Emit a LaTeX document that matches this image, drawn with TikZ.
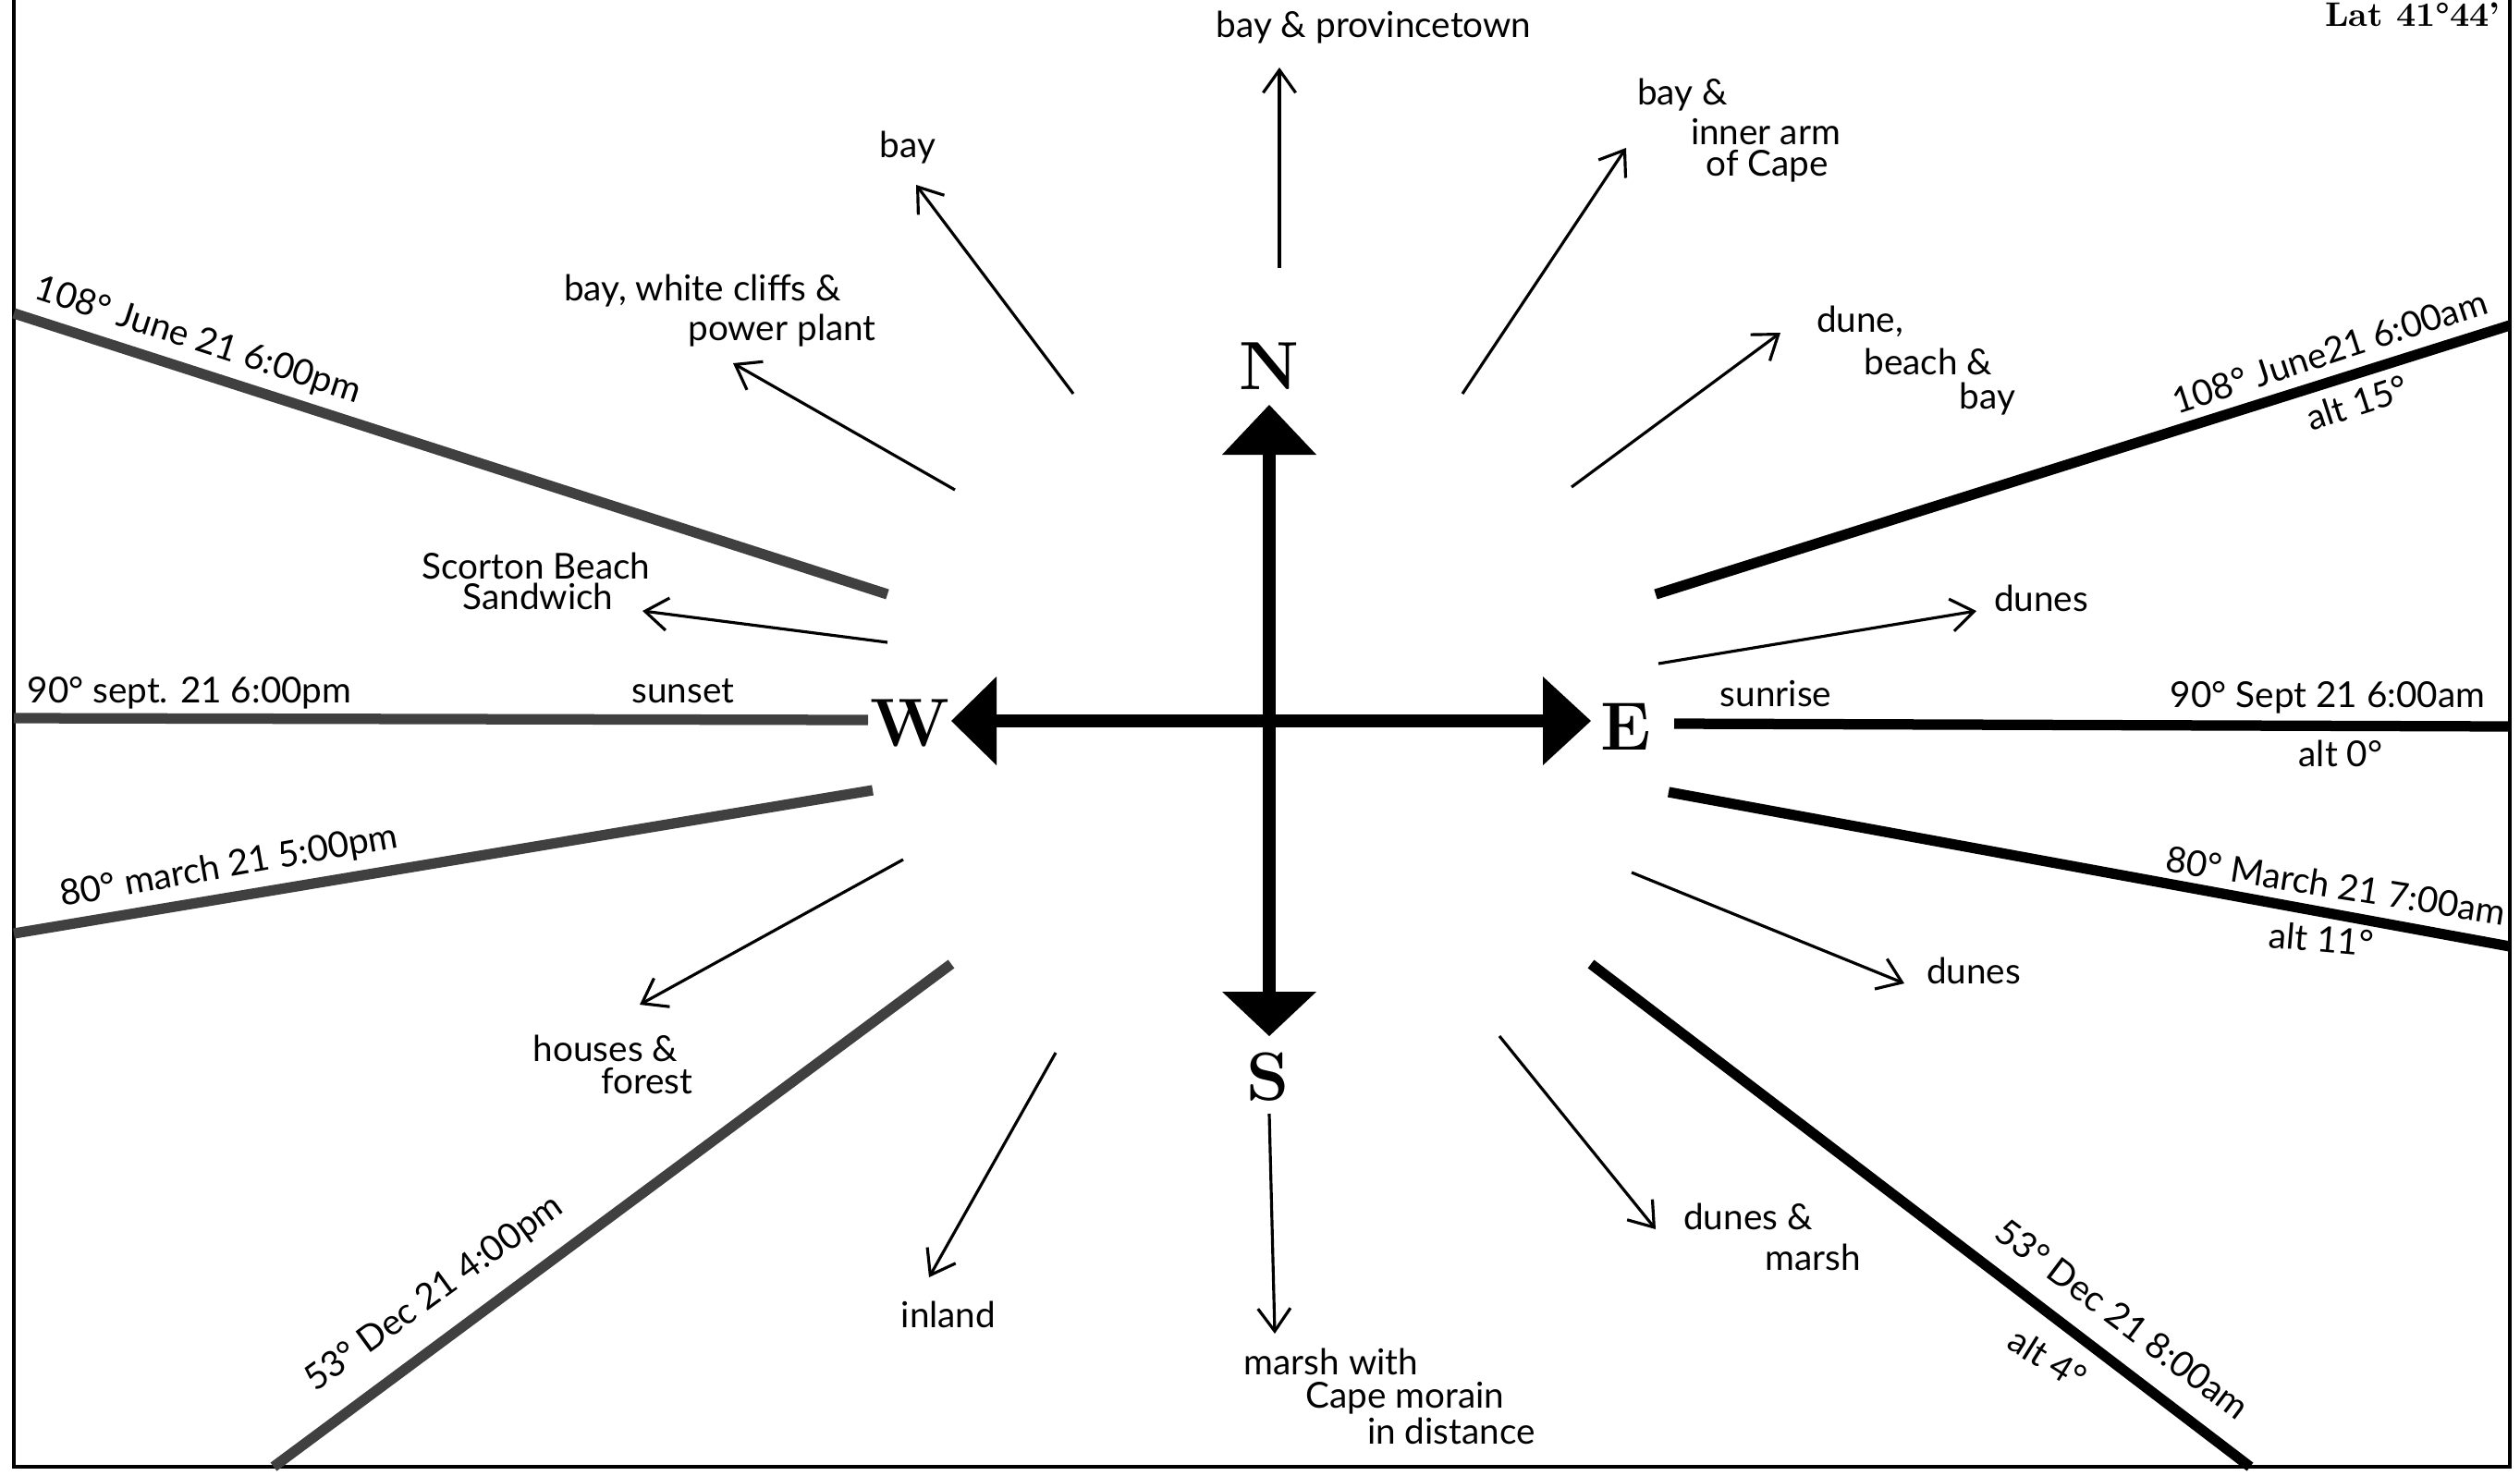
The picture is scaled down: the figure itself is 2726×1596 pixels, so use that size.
\documentclass[tikz,border=0pt]{standalone}
\usepackage{fontspec}
\newfontfamily\hand{Lato}
\usetikzlibrary{arrows.meta}
\begin{document}
\begin{tikzpicture}[x=0.01cm,y=-0.01cm,
 hand/.style={font=\hand\fontsize{11}{13}\selectfont, inner sep=0pt, align=center},
 rayR/.style={line width=3.2pt, black},
 rayL/.style={line width=3.2pt, black!75},
 pointer/.style={line width=0.9pt, -{Straight Barb[length=7pt,width=10pt]}},
 compass/.style={font=\bfseries\fontsize{21}{21}\selectfont, inner sep=0pt},
 head/.style={fill=black, draw=none},
 shaft/.style={line width=4pt, black},
 frame/.style={line width=1.2pt, black},
]
\useasboundingbox (0,0) rectangle (2726,1596);
% frame
\draw[frame] (15,0) -- (15,1587) -- (2715,1587) -- (2715,0);
\node[font=\bfseries\fontsize{10.5}{12}\selectfont, anchor=base, inner sep=0pt] (lat) at (2610,28) {Lat 41°44'};

% sun rays
\coordinate (r1a) at (15,339);   \coordinate (r1b) at (960,643);
\coordinate (r2a) at (15,777);   \coordinate (r2b) at (939,779);
\coordinate (r3a) at (15,1010);  \coordinate (r3b) at (944,855);
\coordinate (r4a) at (296,1587); \coordinate (r4b) at (1029,1043);
\coordinate (r5a) at (1791,643); \coordinate (r5b) at (2715,352);
\coordinate (r6a) at (1811,783); \coordinate (r6b) at (2715,786);
\coordinate (r7a) at (1805,857); \coordinate (r7b) at (2715,1024);
\coordinate (r8a) at (1721,1043);\coordinate (r8b) at (2434,1587);
\draw[rayL] (r1a) -- (r1b);
\draw[rayL] (r2a) -- (r2b);
\draw[rayL] (r3a) -- (r3b);
\draw[rayL] (r4a) -- (r4b);
\draw[rayR] (r5a) -- (r5b);
\draw[rayR] (r6a) -- (r6b);
\draw[rayR] (r7a) -- (r7b);
\draw[rayR] (r8a) -- (r8b);

% ray labels
\node[hand, rotate=-18] (l1) at (214,369) {108° June 21 6:00pm};
\node[hand] (l2) at (205,750) {90° sept. 21 6:00pm};
\node[hand, rotate=10] (l3) at (248,938) {80° march 21 5:00pm};
\node[hand, rotate=36] (l4) at (470,1400) {53° Dec 21 4:00pm};
\node[hand, rotate=18] (l5) at (2520,380) {108° June21 6:00am};
\node[hand, rotate=18] (l5b) at (2550,436) {alt 15°};
\node[hand] (l6) at (2518,755) {90° Sept 21 6:00am};
\node[hand] (l6b) at (2532,815) {alt 0°};
\node[hand, rotate=-9] (l7) at (2527,958) {80° March 21 7:00am};
\node[hand, rotate=-5] (l7b) at (2511,1016) {alt 11°};
\node[hand, rotate=-37] (l8) at (2296,1427) {53° Dec 21 8:00am};
\node[hand, rotate=-32] (l8b) at (2215,1470) {alt 4°};

% compass
\coordinate (Ntip) at (1373,438); \coordinate (Nbase) at (1373,492);
\coordinate (Stip) at (1373,1121); \coordinate (Sbase) at (1373,1073);
\coordinate (Wtip) at (1029,780); \coordinate (Wbase) at (1078,780);
\coordinate (Etip) at (1721,780); \coordinate (Ebase) at (1669,780);
\draw[shaft] (Nbase) -- (Sbase);
\draw[shaft] (Wbase) -- (Ebase);
\fill[head] (Ntip) -- (1322,492) -- (1424,492) -- cycle;
\fill[head] (Stip) -- (1322,1073) -- (1424,1073) -- cycle;
\fill[head] (Wtip) -- (1078,732) -- (1078,828) -- cycle;
\fill[head] (Etip) -- (1669,732) -- (1669,828) -- cycle;
\node[compass] (N) at (1373,396) {N};
\node[compass] (W) at (984,782) {W};
\node[compass] (E) at (1759,786) {E};
\node[compass] (S) at (1372,1165) {S};

% pointers and view labels
\coordinate (pNa) at (1384,290);   \coordinate (pNb) at (1384,73);
\node[hand] (vN) at (1486,30) {bay \& provincetown};
\draw[pointer] (pNa) -- (pNb);

\coordinate (pNNWa) at (1161,426); \coordinate (pNNWb) at (991,200);
\node[hand] (vNNW) at (982,160) {bay};
\draw[pointer] (pNNWa) -- (pNNWb);

\coordinate (pNWa) at (1033,530);  \coordinate (pNWb) at (793,393);
\node[hand] (vNW1) at (760,315) {bay, white cliffs \&};
\node[hand] (vNW2) at (846,358) {power plant};
\draw[pointer] (pNWa) -- (pNWb);

\coordinate (pWa) at (960,695);    \coordinate (pWb) at (695,661);
\node[hand] (vW1) at (580,612) {Scorton Beach};
\node[hand] (vW2) at (582,645) {Sandwich};
\draw[pointer] (pWa) -- (pWb);

\node[hand] (sunset) at (739,748) {sunset};

\coordinate (pSWa) at (977,930);   \coordinate (pSWb) at (692,1087);
\node[hand] (vSW1) at (655,1134) {houses \&};
\node[hand] (vSW2) at (700,1170) {forest};
\draw[pointer] (pSWa) -- (pSWb);

\coordinate (pSSWa) at (1142,1139); \coordinate (pSSWb) at (1005,1382);
\node[hand] (vSSW) at (1026,1422) {inland};
\draw[pointer] (pSSWa) -- (pSSWb);

\coordinate (pSa) at (1373,1205);  \coordinate (pSb) at (1379,1443);
\node[hand] (vS1) at (1440,1473) {marsh with};
\node[hand] (vS2) at (1520,1513) {Cape morain};
\node[hand] (vS3) at (1570,1548) {in distance};
\draw[pointer] (pSa) -- (pSb);

\coordinate (pSSEa) at (1622,1121); \coordinate (pSSEb) at (1791,1330);
\node[hand] (vSSE1) at (1891,1316) {dunes \&};
\node[hand] (vSSE2) at (1961,1360) {marsh};
\draw[pointer] (pSSEa) -- (pSSEb);

\coordinate (pESEa) at (1765,944); \coordinate (pESEb) at (2060,1064);
\node[hand] (vESE) at (2135,1050) {dunes};
\draw[pointer] (pESEa) -- (pESEb);

\coordinate (pENEa) at (1794,718); \coordinate (pENEb) at (2138,661);
\node[hand] (vENE) at (2208,647) {dunes};
\draw[pointer] (pENEa) -- (pENEb);

\node[hand] (sunrise) at (1921,751) {sunrise};

\coordinate (pNEa) at (1700,527); \coordinate (pNEb) at (1926,360);
\node[hand] (vNE1) at (2012,348) {dune,};
\node[hand] (vNE2) at (2086,391) {beach \&};
\node[hand] (vNE3) at (2150,432) {bay};
\draw[pointer] (pNEa) -- (pNEb);

\coordinate (pNNEa) at (1582,426); \coordinate (pNNEb) at (1759,160);
\node[hand] (vNNE1) at (1820,103) {bay \&};
\node[hand] (vNNE2) at (1910,143) {inner arm};
\node[hand] (vNNE3) at (1912,180) {of Cape};
\draw[pointer] (pNNEa) -- (pNNEb);
\end{tikzpicture}
\end{document}
